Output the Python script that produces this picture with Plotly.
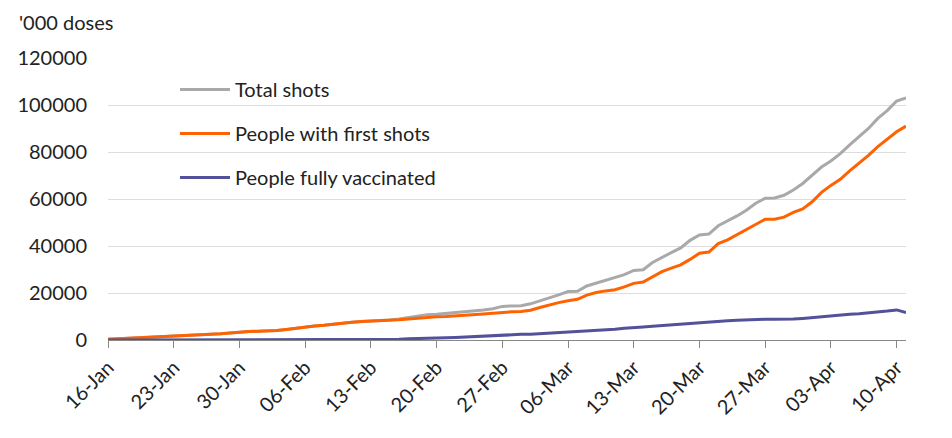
import plotly.graph_objects as go
import pandas as pd

dates = pd.date_range("2021-01-16", "2021-04-11", freq="D")

first_shots = [300, 500, 700, 800, 1000, 1100, 1300, 1400, 1600, 1900,
               2100, 2400, 2700, 3000, 3400, 3600, 3700, 3700, 4000, 4500,
               5100, 5700, 6000, 6300, 6800, 7200, 7600, 7900, 8000, 8200,
               8400, 8600, 8900, 9300, 9700, 9900, 10000, 10200, 10600, 10800,
               11100, 11400, 11800, 12000, 12100, 12700, 13800, 14900, 15900, 16700,
               17300, 19100, 20200, 20900, 21400, 22600, 24100, 24700, 26900, 29100,
               30600, 32000, 34300, 36900, 37400, 41000, 42600, 44800, 47200, 49400,
               51400, 51400, 52300, 54300, 55800, 58800, 62800, 65800, 68400, 72000,
               75200, 78600, 82300, 85400, 88600, 91000]

total_shots = [300, 500, 700, 800, 1000, 1100, 1300, 1400, 1600, 1900,
               2100, 2400, 2700, 3000, 3400, 3600, 3700, 3700, 4000, 4500,
               5100, 5700, 6000, 6300, 6800, 7200, 7600, 7900, 8000, 8200,
               8500, 8900, 9600, 10400, 10800, 11000, 11300, 11600, 12100, 12400,
               12800, 13300, 14300, 14500, 14600, 15400, 16600, 17900, 19200, 20600,
               20700, 23000, 24200, 25400, 26300, 27800, 29600, 29900, 33000, 35200,
               37200, 39200, 42400, 44700, 45100, 48600, 50600, 52800, 55200, 58200,
               60300, 60400, 61600, 63800, 66600, 69900, 73600, 76200, 79300, 83000,
               86600, 90000, 94300, 97600, 101700, 103000]

fully_vaccinated = [0, 0, 0, 0, 0, 0, 0, 0, 0, 0,
                    0, 0, 0, 0, 0, 0, 0, 0, 0, 0,
                    0, 0, 0, 0, 0, 0, 0, 0, 0, 0,
                    100, 300, 500, 700, 800, 900, 1000, 1100, 1300, 1500,
                    1800, 2100, 2300, 2400, 2400, 2500, 2700, 3000, 3300, 3500,
                    3600, 3900, 4200, 4400, 4600, 5000, 5400, 5500, 5800, 6100,
                    6400, 6800, 7200, 7600, 7700, 8000, 8200, 8400, 8600, 8700,
                    8800, 8800, 8800, 8900, 9200, 9600, 10000, 10400, 10700, 11000,
                    11200, 11500, 11900, 12300, 12800, 11700]

series_names = ["Total shots", "People with first shots", "People fully vaccinated"]
series_colors = ["#A9A9A9", "#FF6200", "#525199"]
y_ticks = [0, 20000, 40000, 60000, 80000, 100000, 120000]

FONT = "Lato"
FS = 20
W, H = 952, 438
# the page adds an 8px body offset; plot area should land at x 108-906, y 58-340
OFF = 8
L, T = 108 - OFF, 58 - OFF
R, B = W - (906 - OFF), H - (340 - OFF)
PW, PH = W - L - R, H - T - B

fig = go.Figure()
for i, (name, vals, col) in enumerate(zip(series_names,
                                          [total_shots, first_shots, fully_vaccinated],
                                          series_colors)):
    fig.add_trace(go.Scatter(x=dates, y=vals, mode="lines", name=name,
                             line=dict(color=col, width=3), legendgroup=f"g{i}"))

fig.update_layout(
    width=W, height=H,
    margin=dict(l=L, r=R, t=T, b=B, autoexpand=False),
    paper_bgcolor="white", plot_bgcolor="white",
    font=dict(family=FONT, size=FS, color="#222222"),
    showlegend=True,
    legend=dict(x=(175 - 108) / PW, y=1 - (70 - 58) / PH, xanchor="left", yanchor="top",
                bgcolor="rgba(0,0,0,0)", tracegroupgap=15,
                font=dict(size=FS, color="#222222"), itemwidth=50),
)
fig.add_annotation(text="'000 doses", xref="paper", yref="paper",
                   x=(17 - 108) / PW, y=1 + (58 - 22) / PH,
                   xanchor="left", yanchor="middle", showarrow=False,
                   font=dict(size=FS, color="#222222"))

fig.update_xaxes(
    type="date", automargin=False,
    range=[dates[0], dates[-1]],
    tick0="2021-01-16", dtick=7 * 24 * 3600 * 1000,
    tickformat="%d-%b", tickangle=-45,
    showgrid=False, showline=True, linecolor="#888888", linewidth=1,
    ticks="outside", ticklen=7, tickcolor="#888888", tickwidth=1,
    tickfont=dict(size=FS, color="#222222"),
)
fig.update_yaxes(
    automargin=False,
    range=[0, 120000], tickvals=y_ticks, ticktext=[str(v) for v in y_ticks],
    showgrid=True, gridcolor="#DDDDDD", gridwidth=1,
    zeroline=False, showline=False, ticks="", ticklabelstandoff=20,
    tickfont=dict(size=FS, color="#222222"),
)

fig.write_html("out.html")
